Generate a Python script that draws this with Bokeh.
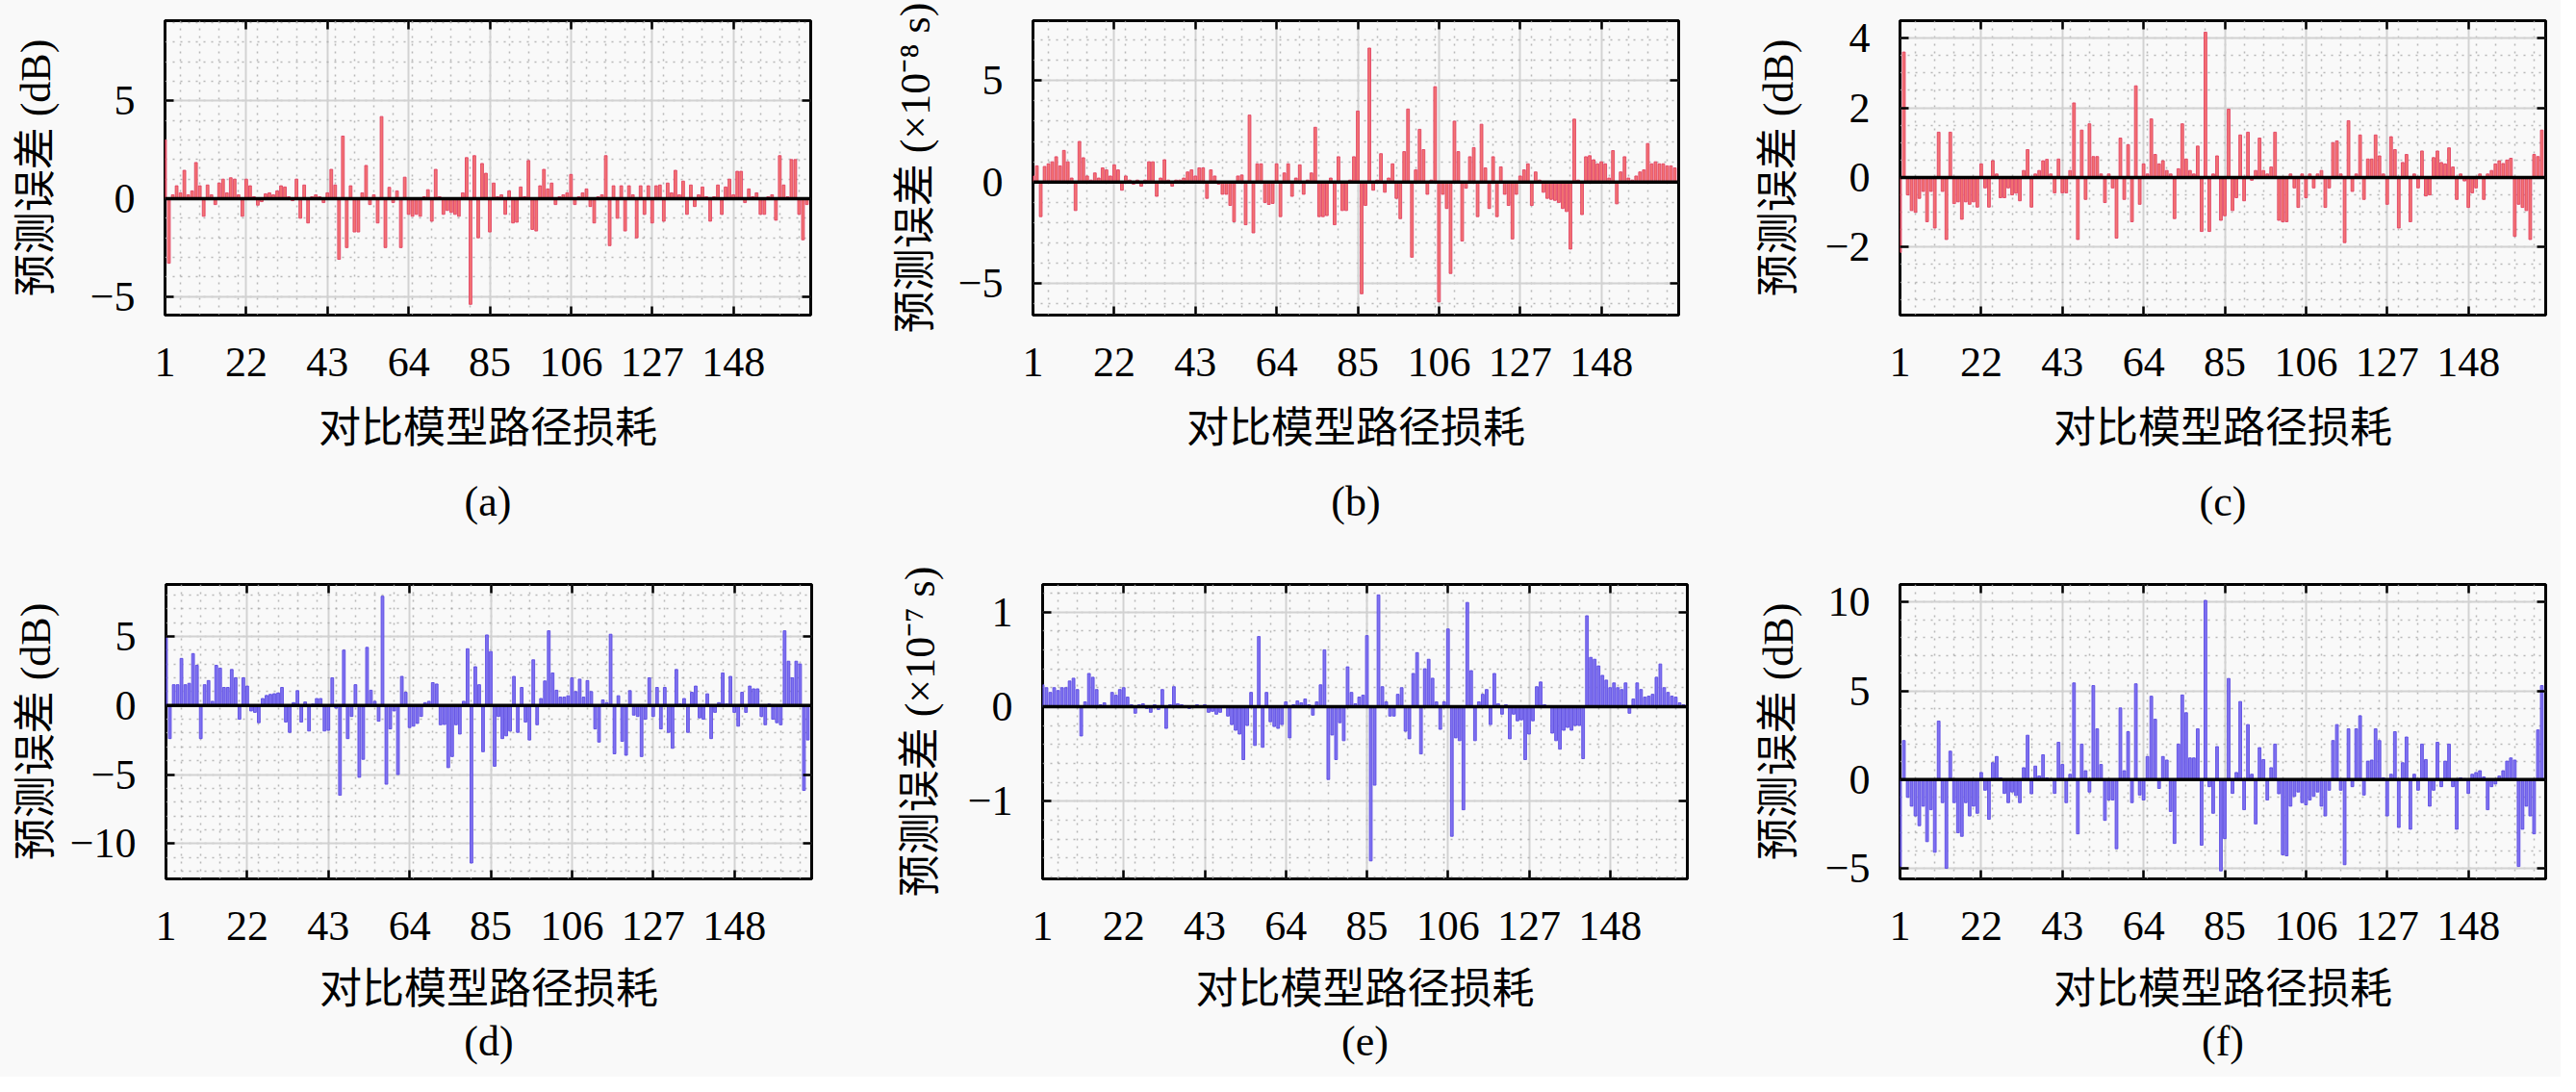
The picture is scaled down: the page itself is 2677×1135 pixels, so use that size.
from bokeh.plotting import figure
from bokeh.models import Range1d, FixedTicker, LinearAxis, Span, Title
from bokeh.layouts import column, row
from bokeh.core.properties import value
from bokeh.embed import file_html
from bokeh.resources import INLINE
import numpy as np

# ---------------- data ----------------
idx = list(range(1, 168))

err_a = [3.0, -3.3, 0.2, 0.66, 0.3, 1.45, 0.2, 0.4, 1.85, 0.66,
         -0.9, 0.7, 0.2, -0.3, 0.8, 1.0, 0.3, 1.07, 1.0, 0.2,
         -0.9, 1.0, 0.66, 0.1, -0.33, -0.15, 0.25, 0.3, 0.2, 0.4,
         0.66, 0.6, 0.1, -0.1, 1.0, -1.0, 0.7, -1.24, 0.1, 0.2,
         0.1, -0.2, 0.3, 1.5, 0.7, -3.1, 3.2, -2.5, 0.66, -1.7,
         -1.7, 0.3, 1.7, -0.3, 0.2, -1.24, 4.2, -2.5, 0.58, -0.2,
         0.4, -2.5, 1.1, -0.8, -0.9, -0.8, -0.9, 0.1, 0.46, -1.15,
         1.5, 0.1, -0.8, -0.6, -0.7, -0.8, -0.9, 0.3, 2.1, -5.4,
         2.2, -2.0, 1.8, 1.3, -1.7, 0.8, 0.1, 0.2, -0.8, 0.4,
         -1.24, -1.2, 0.6, 0.1, 1.95, -1.57, -1.65, 0.66, 1.5, 0.5,
         0.8, -0.3, 0.1, 0.2, 0.3, 1.24, -0.3, 0.1, 0.3, 0.5,
         -0.4, -1.24, 0.1, 0.2, 2.2, -2.4, 0.66, -1.0, 0.66, -1.65,
         0.66, 0.2, -2.0, 0.66, -0.8, 0.66, -1.24, 0.66, 0.7, -1.15,
         0.8, 0.3, 1.45, 0.2, 0.9, -0.8, 0.7, -0.4, 0.2, 0.6,
         0.1, -1.15, 0.1, 0.7, -0.8, 0.6, 1.0, 0.2, 1.4, 1.4,
         -0.2, 0.5, 0.1, 0.3, -0.8, -0.8, 0.1, 0.2, -1.1, 2.2,
         0.7, 0.1, 2.0, 2.0, -0.8, -2.1, -0.3]

err_b = [0.3, 0.8, -1.7, 0.77, 0.9, 1.0, 1.25, 0.8, 1.56, 1.0,
         0.2, -1.4, 2.0, 1.2, 0.3, 0.1, 0.45, 0.2, 0.7, 0.6,
         0.3, 0.85, 0.6, -0.4, 0.3, 0.1, -0.1, 0.1, -0.2, 0.1,
         1.0, 1.0, -0.7, 0.2, 1.1, 0.1, -0.2, 0.1, 0.1, 0.2,
         0.5, 0.6, 0.3, 0.7, 0.7, -0.8, 0.6, 0.3, -0.1, -0.6,
         -0.6, -1.15, -1.95, 0.3, 0.35, -2.1, 3.3, -2.5, 0.9, 0.9,
         -1.0, -1.1, -1.05, 0.9, -1.7, 0.45, 0.9, -0.7, 0.2, 0.85,
         -0.6, 0.1, 0.45, 2.7, -1.7, -1.7, -1.65, 0.2, -2.1, 1.25,
         -1.4, -1.4, 0.1, 1.25, 3.5, -5.5, -1.15, 6.6, -0.4, 0.1,
         1.4, -0.5, 0.2, 0.9, -0.8, -1.8, 1.5, 3.6, -3.7, 0.6,
         2.6, 1.6, -0.6, 0.1, 4.7, -5.9, -0.6, -1.3, -4.5, 3.0,
         1.5, -2.9, -0.3, 1.25, 1.7, -1.7, 2.85, 0.7, -1.3, 1.25,
         -1.7, 0.75, -0.6, -1.15, -2.8, -0.6, 0.3, 0.6, 0.9, -1.15,
         0.5, 0.1, -0.5, -0.8, -0.85, -0.9, -1.0, -1.3, -1.45, -3.3,
         3.1, 0.1, -1.6, 1.25, 1.3, 1.1, 0.9, 1.0, 0.9, 0.2,
         1.55, -1.07, 0.5, 1.25, 0.2, 0.1, 0.3, 0.5, 0.6, 1.9,
         0.9, 1.0, 0.9, 0.9, 0.8, 0.8, 0.7]

err_c = [-2.15, 3.6, -0.5, -0.95, -1.0, -0.6, -0.4, -1.27, -0.4, -1.45,
         1.3, -0.4, -1.78, 1.3, -0.75, -0.7, -1.2, -0.7, -0.77, -0.7,
         -0.85, 0.39, -0.3, -0.85, 0.48, 0.1, -0.58, -0.58, -0.3, -0.5,
         -0.45, -0.67, 0.2, 0.8, -0.85, 0.1, 0.2, 0.48, 0.52, 0.1,
         -0.44, 0.53, -0.44, -0.44, 0.2, 2.14, -1.78, 1.36, -0.63, 1.54,
         0.6, 0.6, 0.1, -0.72, 0.1, -0.3, -1.74, 1.13, -0.63, 0.94,
         -1.27, 2.63, -0.77, 0.39, 0.1, 1.68, 0.66, 0.39, 0.48, 0.2,
         0.1, -1.18, 0.25, 1.54, 0.53, 0.2, 0.1, 0.9, -1.55, 4.17,
         -1.55, 0.1, 0.62, -1.23, -1.1, 1.96, -0.95, -0.58, 1.22, -0.67,
         1.3, -0.08, 0.2, 1.13, 0.2, 0.1, 0.3, 1.3, -1.23, -1.27,
         -1.27, 0.1, -0.3, -0.86, 0.1, -0.58, 0.1, -0.3, 0.1, 0.2,
         -0.86, -0.3, 1.0, 1.05, 0.1, -1.87, 1.63, -0.4, 0.1, 1.22,
         -0.63, 0.53, 0.53, 1.22, 0.62, 0.1, -0.77, 1.17, 0.8, -1.45,
         0.43, 0.66, -1.27, 0.1, -0.3, 0.76, -0.53, -0.5, 0.57, 0.76,
         0.43, 0.39, 0.85, 0.3, -0.63, 0.1, -0.1, -0.86, -0.44, -0.3,
         0.1, -0.63, 0.1, 0.2, 0.39, 0.48, 0.4, 0.5, 0.55, -1.69,
         -0.77, -0.86, -0.95, -1.78, 0.66, 0.6, 1.36]

err_d = [4.9, -2.4, 1.5, 1.5, 3.4, 1.5, 1.6, 3.75, 2.9, -2.4,
         1.5, 1.8, 0.3, 2.9, 2.7, 1.3, 1.3, 2.6, 2.0, -1.0,
         2.0, 1.4, -0.4, -0.5, -1.25, 0.5, 0.72, 0.8, 0.85, 0.9,
         1.3, -1.2, -1.95, 0.2, 1.07, -1.2, 0.25, -1.85, 0.1, 0.5,
         0.5, -1.85, -1.8, 2.0, -0.2, -6.5, 4.0, -2.4, -0.8, 1.5,
         -5.2, -3.9, 4.2, 1.1, 0.3, -1.14, 7.9, -5.7, -1.7, -0.4,
         -5.0, 2.1, 0.95, -1.6, -1.5, -1.3, -0.8, 0.2, 0.3, 1.65,
         1.55, -1.4, -1.38, -4.5, -3.7, -1.4, -2.07, 0.3, 4.1, -11.4,
         2.8, 1.5, -3.35, 5.1, 3.9, -4.4, -0.8, -2.4, -2.2, -1.85,
         2.1, -1.95, 1.3, -1.2, -2.5, 3.3, -1.4, 0.5, 1.77, 5.4,
         2.35, 1.1, 0.6, 0.6, 0.7, 2.0, 1.0, 1.9, 0.6, 1.8,
         1.0, -1.7, -2.65, 0.4, 0.2, 5.15, -3.5, 0.7, -2.6, -3.6,
         1.07, -0.7, -0.8, -3.7, -1.0, 2.0, -0.8, 1.3, -1.7, 1.3,
         -1.95, -3.1, 2.6, 0.1, 0.5, -1.95, 0.95, 1.4, -0.9, -1.0,
         0.84, -2.4, -0.5, 0.2, 2.35, 0.1, 2.1, -0.5, -1.5, 0.95,
         -0.5, 1.4, 1.2, 1.2, -0.8, -1.4, 0.1, -1.0, -1.25, -1.4,
         5.4, 3.2, 2.0, 3.2, 3.0, -6.15, -2.5]

err_e = [0.23, 0.2, 0.15, 0.2, 0.17, 0.2, 0.2, 0.27, 0.3, 0.18,
         -0.31, 0.05, 0.35, 0.31, 0.18, 0.02, 0.04, 0.01, 0.15, 0.12,
         0.18, 0.2, 0.1, 0.02, -0.07, 0.02, 0.03, -0.02, -0.06, 0.02,
         -0.03, 0.18, -0.23, 0.02, 0.21, 0.03, 0.02, 0.01, -0.02, 0.0,
         0.02, 0.0, 0.02, -0.06, -0.05, -0.08, -0.06, 0.01, -0.1, -0.19,
         -0.25, -0.29, -0.56, -0.2, 0.15, -0.41, 0.74, -0.43, 0.15, -0.16,
         -0.21, -0.23, -0.19, 0.05, -0.33, 0.02, 0.06, 0.04, 0.08, 0.02,
         -0.09, 0.05, 0.23, 0.6, -0.77, -0.3, -0.56, -0.17, -0.36, 0.42,
         0.15, 0.03, 0.1, 0.12, 0.75, -1.63, -0.83, 1.18, 0.21, 0.05,
         -0.1, -0.1, 0.13, 0.2, -0.26, -0.34, 0.35, 0.57, -0.5, 0.4,
         0.5, 0.3, 0.05, -0.24, 0.05, 0.82, -1.37, -0.33, -0.36, -1.09,
         1.1, 0.38, -0.36, 0.05, 0.13, 0.18, -0.19, 0.35, 0.03, -0.08,
         0.02, -0.34, -0.08, -0.15, -0.14, -0.56, -0.29, -0.15, 0.21, 0.26,
         0.02, 0.0, -0.28, -0.36, -0.45, -0.25, -0.22, -0.25, -0.2, -0.2,
         -0.55, 0.96, 0.52, 0.5, 0.43, 0.33, 0.28, 0.2, 0.25, 0.2,
         0.18, 0.25, -0.07, 0.08, 0.25, 0.18, 0.1, 0.11, 0.13, 0.31,
         0.45, 0.2, 0.15, 0.11, 0.1, 0.04, 0.02]

err_f = [-4.9, 2.2, -1.0, -1.5, -2.05, -2.6, -1.5, -3.5, -1.7, -4.1,
         3.3, -1.3, -5.0, 1.6, -1.3, -3.0, -3.2, -1.3, -2.05, -1.5,
         -1.9, 0.4, -0.6, -2.24, 0.95, 1.3, 0.1, -0.78, -1.3, -0.7,
         -0.9, -1.3, 0.67, 2.5, -0.8, 0.76, 0.2, 1.4, 0.1, 0.05,
         -0.78, 2.1, 0.85, -1.3, 0.3, 5.45, -3.06, 2.0, 0.5, -0.7,
         5.3, 2.86, 0.85, -2.3, -1.15, -1.15, -3.9, 4.04, 0.5, 2.7,
         -1.3, 5.4, -0.87, -1.15, 1.3, 4.7, 3.4, -0.5, 1.3, 1.1,
         -1.8, -3.6, 2.0, 4.77, 3.77, 1.22, 1.22, 2.86, -3.7, 10.1,
         -0.4, -1.9, 1.86, -5.15, -3.33, 5.7, -0.78, 0.4, 4.4, -1.7,
         3.1, 0.3, -2.5, 1.8, 1.13, -1.15, 0.67, 2.0, -0.8, -4.24,
         -4.3, -1.5, -0.95, -0.7, -1.3, -1.42, -1.15, -0.95, -0.7, -1.5,
         -2.05, -0.6, 2.2, 3.1, -0.6, -4.8, 2.86, -0.4, 2.86, 3.6,
         -0.87, 1.04, 1.1, 2.86, 2.2, 0.1, -2.05, 0.3, 2.7, -2.7,
         0.95, 2.4, -2.8, 0.3, -0.6, 2.0, 1.13, -1.5, -0.6, 2.1,
         -0.4, 1.04, 2.0, -0.4, -2.8, 0.1, 0.05, -0.78, 0.3, 0.4,
         0.5, 0.15, -1.7, -0.4, -0.25, 0.2, 0.5, 1.04, 1.22, 1.1,
         -4.9, -2.8, -1.5, -2.05, -3.06, 2.8, 5.3]

x_ticks = [1, 22, 43, 64, 85, 106, 127, 148]
x_label = "对比模型路径损耗"
y_labels = ["预测误差 (dB)", "预测误差 (×10⁻⁸ s)", "预测误差 (dB)",
            "预测误差 (dB)", "预测误差 (×10⁻⁷ s)", "预测误差 (dB)"]
captions_top = ["(a)", "(b)", "(c)"]
captions_bottom = ["(d)", "(e)", "(f)"]

# ---------------- style / layout ----------------
FONT = "'Liberation Serif', 'Noto Sans CJK SC', serif"
RED_FILL, RED_LINE = "#f27472", "#e23f62"
BLUE_FILL, BLUE_LINE = "#7f72f0", "#5a4ae2"
BG = "#f9f9f9"
TOTAL_W = 2661
FRAME_H = 306
BOTTOM_TOP_ROW = 160
BOTTOM_BOT_ROW = 206
STRIP1_H = 69
BASE1 = 35   # caption baseline height above strip bottom (top row)


def make_panel(vals, ylim, yticks, yminor_step, ylab, ylab_standoff,
               fill, line, width, left, right, top, bottom,
               xlab_standoff=27, caption=None):
    height = top + FRAME_H + bottom
    p = figure(width=width, height=height,
               x_range=Range1d(1, 168), y_range=Range1d(*ylim),
               output_backend="svg", toolbar_location=None,
               min_border_left=left, min_border_right=right,
               min_border_top=top, min_border_bottom=bottom,
               background_fill_color=BG, border_fill_color=BG)
    p.outline_line_color = "black"
    p.outline_line_width = 3

    xminor = [v for v in range(5, 168, 5)]
    lo, hi = ylim
    start = np.ceil(lo / yminor_step) * yminor_step
    yminor = [round(float(v), 3) for v in np.arange(start, hi, yminor_step)]
    xt = FixedTicker(ticks=x_ticks, minor_ticks=xminor)
    yt = FixedTicker(ticks=yticks, minor_ticks=yminor)

    p.xaxis.ticker = xt
    p.yaxis.ticker = yt
    p.xgrid.ticker = xt
    p.ygrid.ticker = yt

    for g in (p.xgrid, p.ygrid):
        g.grid_line_color = "#d2d2d2"
        g.grid_line_width = 2
        g.minor_grid_line_color = "#a8a8a8"
        g.minor_grid_line_width = 1.5
        g.minor_grid_line_dash = "2 6"
        g.minor_grid_line_alpha = 0.8

    overrides = {}
    for t in yticks:
        overrides[t] = ("%g" % t).replace("-", "\u2212")

    for ax in (p.xaxis[0], p.yaxis[0]):
        ax.axis_line_color = None
        ax.major_tick_in = 9
        ax.major_tick_out = 0
        ax.major_tick_line_color = "black"
        ax.major_tick_line_width = 2.5
        ax.minor_tick_in = 0
        ax.minor_tick_out = 0
        ax.major_label_text_font = FONT
        ax.major_label_text_font_size = "44px"
        ax.major_label_text_color = "black"
        ax.axis_label_text_font = FONT
        ax.axis_label_text_font_size = "44px"
        ax.axis_label_text_font_style = "normal"
        ax.axis_label_text_color = "black"

    p.yaxis[0].major_label_overrides = overrides
    p.xaxis[0].axis_label = x_label
    p.xaxis[0].major_label_standoff = 34
    p.xaxis[0].axis_label_standoff = xlab_standoff
    p.yaxis[0].axis_label = ylab
    p.yaxis[0].major_label_standoff = 31
    p.yaxis[0].axis_label_standoff = ylab_standoff

    # mirrored tick marks (top / right)
    top_ax = LinearAxis(ticker=xt, axis_line_color=None, major_tick_in=9,
                        major_tick_out=0, minor_tick_in=0, minor_tick_out=0,
                        major_tick_line_width=2.5,
                        major_label_text_font_size="1px",
                        major_label_text_alpha=0, major_label_standoff=0)
    right_ax = LinearAxis(ticker=yt, axis_line_color=None, major_tick_in=9,
                          major_tick_out=0, minor_tick_in=0, minor_tick_out=0,
                          major_tick_line_width=2.5,
                          major_label_text_font_size="1px",
                          major_label_text_alpha=0, major_label_standoff=0)
    p.add_layout(top_ax, "above")
    p.add_layout(right_ax, "right")

    p.vbar(x=idx, top=vals, bottom=0, width=0.7,
           fill_color=fill, line_color=line, line_width=0.9)
    p.add_layout(Span(location=0, dimension="width", line_color="black",
                      line_width=3.5))

    if caption is not None:
        t = Title(text=caption, align="center", text_font=FONT,
                  text_font_size="44px", text_font_style="normal",
                  text_color="black", standoff=0)
        p.add_layout(t, "below")
    return p


def caption_strip(height, baseline, texts, centers):
    s = figure(width=TOTAL_W, height=height,
               x_range=Range1d(0, TOTAL_W), y_range=Range1d(0, height),
               output_backend="svg", toolbar_location=None,
               x_axis_location=None, y_axis_location=None,
               min_border_left=0, min_border_right=0,
               min_border_top=0, min_border_bottom=0,
               background_fill_color=BG, border_fill_color=BG)
    s.outline_line_color = None
    s.xgrid.visible = False
    s.ygrid.visible = False
    s.text(x=centers, y=[baseline] * len(texts), text=texts,
           text_align="center", text_baseline="alphabetic",
           text_font=value(FONT), text_font_size="44px", text_color="black")
    return s


# column geometry: (figure width, left border, right border)
cols_top = [(902, 171, 60), (902, 171, 60), (857, 170, 16)]
cols_bot = [(902, 172, 59), (902, 181, 51), (857, 170, 16)]


def centers_of(cols):
    out, x0 = [], 0
    for w, l, r in cols:
        out.append(x0 + l + (w - l - r) / 2.0)
        x0 += w
    return out


pa = make_panel(err_a, (-5.95, 9.1), [-5, 0, 5], 1, y_labels[0], 29,
                RED_FILL, RED_LINE, *cols_top[0], 21, BOTTOM_TOP_ROW)
pb = make_panel(err_b, (-6.55, 7.95), [-5, 0, 5], 1, y_labels[1], 17,
                RED_FILL, RED_LINE, *cols_top[1], 21, BOTTOM_TOP_ROW)
pc = make_panel(err_c, (-3.95, 4.5), [-2, 0, 2, 4], 0.5, y_labels[2], 21,
                RED_FILL, RED_LINE, *cols_top[2], 21, BOTTOM_TOP_ROW)
pd = make_panel(err_d, (-12.55, 8.75), [-10, -5, 0, 5], 1, y_labels[3], 8,
                BLUE_FILL, BLUE_LINE, *cols_bot[0], 51, BOTTOM_BOT_ROW,
                xlab_standoff=24, caption=captions_bottom[0])
pe = make_panel(err_e, (-1.82, 1.29), [-1, 0, 1], 0.2, y_labels[4], 22,
                BLUE_FILL, BLUE_LINE, *cols_bot[1], 51, BOTTOM_BOT_ROW,
                xlab_standoff=24, caption=captions_bottom[1])
pf = make_panel(err_f, (-5.6, 11.0), [-5, 0, 5, 10], 1, y_labels[5], 21,
                BLUE_FILL, BLUE_LINE, *cols_bot[2], 51, BOTTOM_BOT_ROW,
                xlab_standoff=24, caption=captions_bottom[2])

strip1 = caption_strip(STRIP1_H, BASE1, captions_top, centers_of(cols_top))

layout = column(row(pa, pb, pc), strip1, row(pd, pe, pf))
layout.styles = {"background-color": BG}

open("out.html", "w").write(file_html(layout, INLINE))
